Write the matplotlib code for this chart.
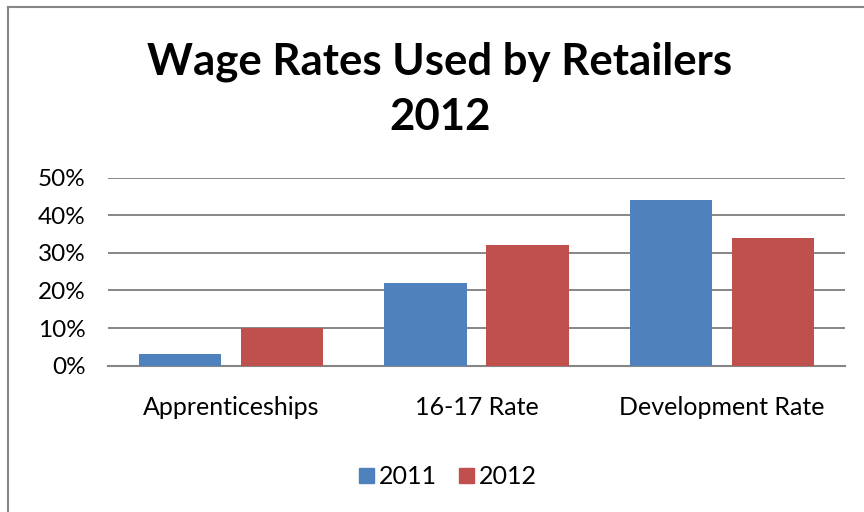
import numpy as np
import matplotlib.pyplot as plt
from matplotlib.lines import Line2D
from matplotlib.ticker import PercentFormatter

plt.rcParams['font.family'] = ['Lato', 'DejaVu Sans']

categories = ["Apprenticeships", "16-17 Rate", "Development Rate"]
series_names = ["2011", "2012"]
values_2011 = [3, 22, 44]
values_2012 = [10, 32, 34]
colors = ["#4F81BD", "#C0504D"]
y_ticks = [0, 10, 20, 30, 40, 50]

fig = plt.figure(figsize=(8.64, 5.12), dpi=100)
ax = fig.add_axes([0.125, 0.2857, 0.853, 0.3673])

x = np.arange(len(categories))
width = 0.334
offset = 0.2076
ax.bar(x - offset, values_2011, width, color=colors[0], zorder=3)
ax.bar(x + offset, values_2012, width, color=colors[1], zorder=3)

ax.set_xlim(-0.5, len(categories) - 0.5)
ax.set_ylim(0, 50)
ax.set_yticks(y_ticks)
ax.yaxis.set_major_formatter(PercentFormatter(decimals=0))
ax.set_xticks(x)
ax.set_xticklabels(categories)
ax.tick_params(axis='both', length=0, labelsize=18)
ax.tick_params(axis='y', labelsize=17.5, pad=16)
ax.tick_params(axis='x', pad=22)
ax.grid(axis='y', color='#868686', linewidth=1.4, zorder=0)
for s in ['top', 'right', 'left']:
    ax.spines[s].set_visible(False)
ax.spines['bottom'].set_color('#868686')
ax.spines['bottom'].set_linewidth(1.5)

fig.text(0.509, 0.826, "Wage Rates Used by Retailers\n2012", ha='center', va='center',
         fontsize=31.5, fontweight='bold', linespacing=1.47)

handles = [Line2D([], [], marker='s', linestyle='', markersize=10.8, color=c) for c in colors]
fig.legend(handles, series_names, loc='center', bbox_to_anchor=(0.518, 0.07), ncol=2,
           frameon=False, fontsize=18, handletextpad=0.24, columnspacing=0.84,
           handlelength=0.6)

# chart border: top and left edges only
fig.add_artist(Line2D([8 / 864, 1], [1 - 7 / 512, 1 - 7 / 512], transform=fig.transFigure,
                      color='#868686', linewidth=1.5))
fig.add_artist(Line2D([8 / 864, 8 / 864], [0, 1 - 7 / 512], transform=fig.transFigure,
                      color='#868686', linewidth=1.5))

fig.savefig("out.png", dpi=100)
